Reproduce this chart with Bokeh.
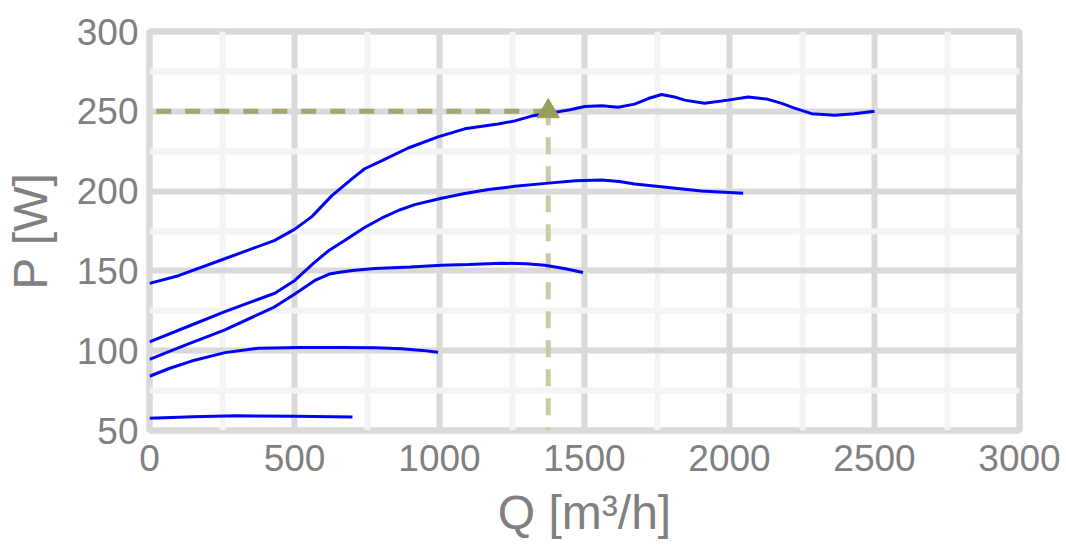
from bokeh.plotting import figure
from bokeh.models import FixedTicker, Range1d
from bokeh.embed import file_html
from bokeh.resources import INLINE

# ---- data ----
q1 = [0, 100, 250, 430, 500, 560, 628, 700, 742, 800, 892, 995, 1087, 1202, 1260, 1317, 1386, 1450, 1501, 1560, 1616, 1673, 1720, 1766, 1810, 1845, 1914, 1995, 2064, 2133, 2180, 2224, 2283, 2362, 2430, 2500]
p1 = [142.2, 147, 157, 169, 176, 184, 197, 208, 214, 219, 227, 234, 239, 242, 244, 247, 249, 251, 253, 253.5, 252.5, 254.5, 258, 260.5, 259, 257, 255, 257, 259, 257.5, 255, 252, 248.5, 247.5, 248.5, 250]

q2 = [0, 130, 260, 432, 501, 570, 620, 673, 740, 800, 860, 915, 1007, 1087, 1170, 1260, 1375, 1470, 1559, 1620, 1673, 1789, 1903, 2047]
p2 = [105.5, 115, 124.5, 136, 144, 155.5, 163, 169, 177, 183, 188, 191.5, 195.5, 198.5, 201, 203, 205, 206.5, 207, 206, 204.5, 202.3, 200, 198.7]

q3 = [0, 130, 260, 432, 501, 570, 620, 651, 700, 777, 900, 1007, 1100, 1214, 1300, 1363, 1430, 1495]
p3 = [94.5, 104, 113, 127.5, 135.5, 144, 148, 149, 150.3, 151.5, 152.5, 153.5, 154, 154.8, 154.5, 153.5, 151.5, 149]

q4 = [0, 70, 145, 260, 375, 520, 662, 780, 869, 940, 995]
p4 = [84, 89, 93.5, 98.8, 101.5, 102, 102, 101.8, 101.2, 100.2, 99]

q5 = [0, 150, 300, 500, 700]
p5 = [57.7, 58.6, 59.2, 59, 58.5]

marker_q = 1375
marker_p = 250

x_ticks = [0, 500, 1000, 1500, 2000, 2500, 3000]
x_minor = [250, 750, 1250, 1750, 2250, 2750]
y_ticks = [50, 100, 150, 200, 250, 300]
y_minor = [75, 125, 175, 225, 275]

# ---- figure ----
FONT = "Liberation Sans"
GRAY = "#808080"

p = figure(width=1066, height=545, output_backend="svg", toolbar_location=None,
           x_range=Range1d(0, 3000), y_range=Range1d(50, 300),
           min_border_left=148, min_border_right=47,
           min_border_top=31, min_border_bottom=115)

p.background_fill_color = "white"
p.border_fill_color = "white"
p.outline_line_color = "#d9d9d9"
p.outline_line_width = 6.5

p.xaxis.ticker = FixedTicker(ticks=x_ticks, minor_ticks=x_minor)
p.yaxis.ticker = FixedTicker(ticks=y_ticks, minor_ticks=y_minor)

for ax in (p.xaxis, p.yaxis):
    ax.axis_line_color = None
    ax.major_tick_line_color = None
    ax.minor_tick_line_color = None
    ax.major_label_text_font = FONT
    ax.major_label_text_font_size = "37px"
    ax.major_label_text_color = GRAY
    ax.axis_label_text_font = FONT
    ax.axis_label_text_font_size = "48px"
    ax.axis_label_text_font_style = "normal"
    ax.axis_label_text_color = GRAY

p.xaxis.axis_label = "Q [m³/h]"
p.yaxis.axis_label = "P [W]"
p.xaxis.major_label_standoff = 8
p.yaxis.major_label_standoff = 5
p.xaxis.axis_label_standoff = 12
p.yaxis.axis_label_standoff = 17

for g in (p.xgrid, p.ygrid):
    g.grid_line_color = "#d9d9d9"
    g.grid_line_width = 6
    g.minor_grid_line_color = "#f4f4f4"
    g.minor_grid_line_width = 6

# dashed marker lines
p.line([marker_q, 0], [marker_p, marker_p], line_color="#a3a76f", line_width=5,
       line_dash="15 14")
p.line([marker_q, marker_q], [marker_p, y_ticks[0]], line_color="#c8cba3", line_width=5,
       line_dash="17 12", line_dash_offset=3)

# curves
for qs, ps in ((q1, p1), (q2, p2), (q3, p3), (q4, p4), (q5, p5)):
    p.line(qs, ps, line_color="#0000ff", line_width=3)

p.scatter([marker_q], [marker_p], marker="triangle", size=22,
          fill_color="#999e5c", line_color="#999e5c")

open("out.html", "w").write(file_html(p, INLINE))
